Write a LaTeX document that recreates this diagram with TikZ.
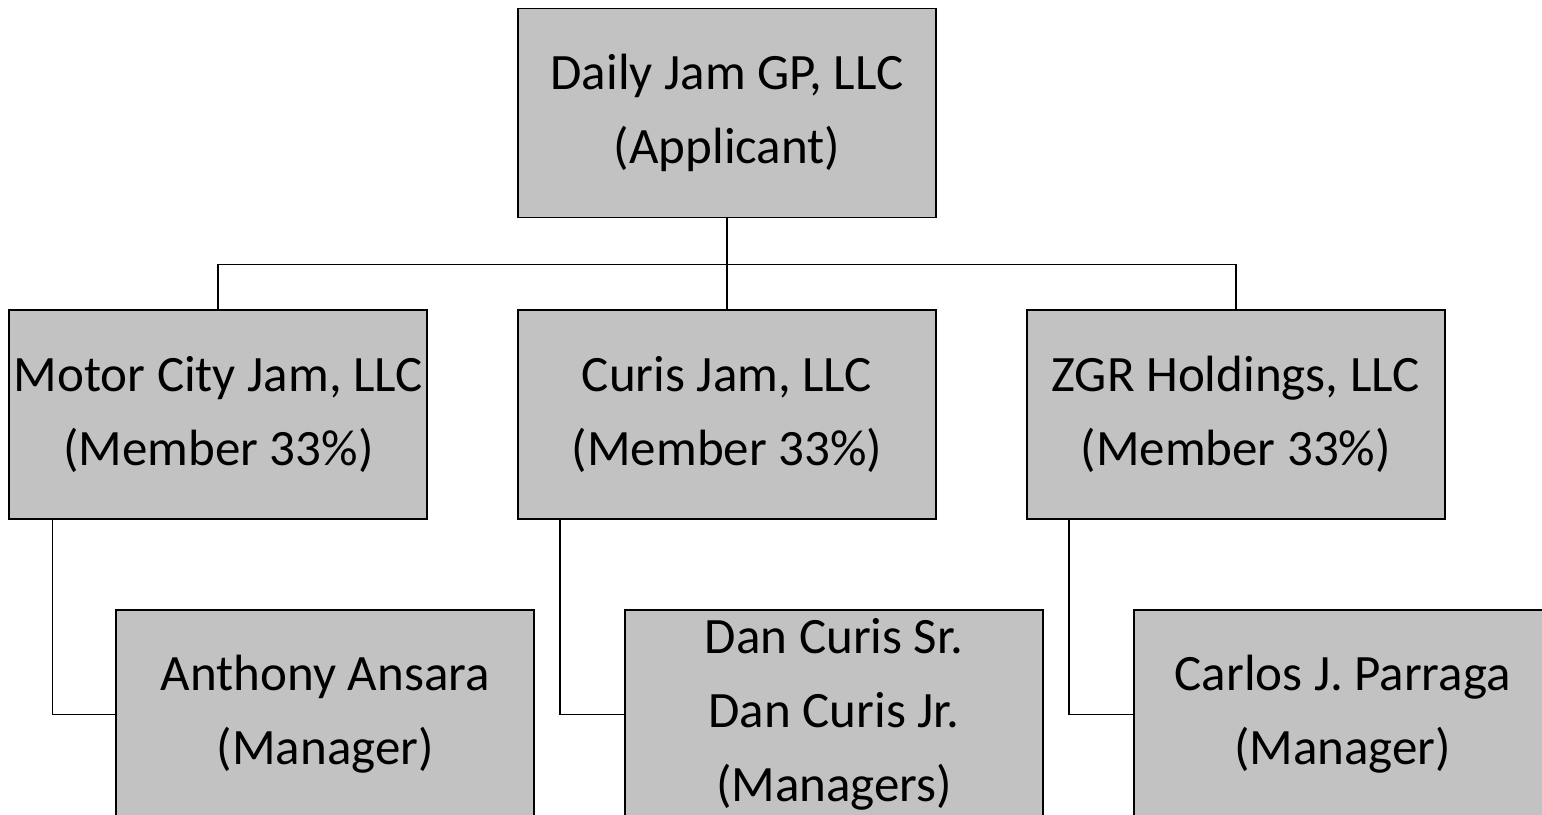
\documentclass[tikz,border=0pt]{standalone}
\usepackage{fontspec}
\setmainfont{Carlito}
\usetikzlibrary{positioning}
\begin{document}
\begin{tikzpicture}[x=1pt, y=-1pt, node distance=89pt, line width=1.7pt,
  box/.style = {draw, fill=black!24, minimum width=418pt, minimum height=209pt,
    align=center, font=\fontsize{51}{74}\selectfont}]
\useasboundingbox (0,0) rectangle (1542,814);
\clip (0,0) rectangle (1542,814);
% owner
\node[box] (gp) at (727,113) {Daily Jam GP, LLC\\(Applicant)};
% members
\node[box] (curis) [below=91pt of gp] {Curis Jam, LLC\\(Member 33\%)};
\node[box] (motor) [left=of curis] {Motor City Jam, LLC\\(Member 33\%)};
\node[box] (zgr) [right=of curis] {ZGR Holdings, LLC\\(Member 33\%)};
% managers
\node[box] (ansara) [below=89pt of motor, xshift=107pt] {Anthony Ansara\\(Manager)};
\node[box] (dan) [below=89pt of curis, xshift=107pt] {Dan Curis Sr.\\Dan Curis Jr.\\(Managers)};
\node[box] (parraga) [below=89pt of zgr, xshift=107pt] {Carlos J. Parraga\\(Manager)};
\coordinate (bar) at ([yshift=-46pt]gp.south);
\draw (gp) -- (curis);
\draw (motor.north) |- (bar) -| (zgr.north);
\draw ([xshift=44pt]motor.south west) |- (ansara.west);
\draw ([xshift=43pt]curis.south west) |- (dan.west);
\draw ([xshift=43pt]zgr.south west) |- (parraga.west);
\end{tikzpicture}
\end{document}
